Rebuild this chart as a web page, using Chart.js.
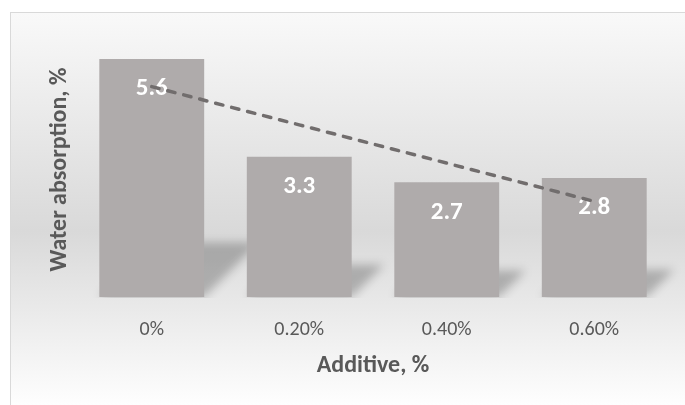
<!DOCTYPE html>
<html>
<head>
<meta charset="utf-8">
<title>Water absorption vs additive</title>
<script src="https://cdn.jsdelivr.net/npm/chart.js@4/dist/chart.umd.min.js"></script>
<style>
  html, body { margin: 0; padding: 0; background: #ffffff; }
  #wrap { position: relative; width: 685px; height: 405px; }
</style>
</head>
<body>
<div id="wrap"><canvas id="chart" width="685" height="405"></canvas></div>
<script>
// ---- data ----
const categories = ['0%', '0.20%', '0.40%', '0.60%'];
const absorption = [5.6, 3.3, 2.7, 2.8];
const yAxisTitle = 'Water absorption, %';
const xAxisTitle = 'Additive, %';
const yRange = [0, 6];

// ---- styling ----
const FONT = 'Carlito, Lato, "Open Sans", sans-serif';
const TEXT_GRAY = '#595959';
const BAR_GRAY = '#afabab';
const TREND_GRAY = '#716d6d';

// Ordinary least-squares linear trend over category index (1..n)
function linearTrend(values) {
  const n = values.length;
  const xs = values.map((_, i) => i + 1);
  const mx = xs.reduce((a, b) => a + b, 0) / n;
  const my = values.reduce((a, b) => a + b, 0) / n;
  let sxy = 0, sxx = 0;
  xs.forEach((x, i) => { sxy += (x - mx) * (values[i] - my); sxx += (x - mx) * (x - mx); });
  const slope = sxy / sxx;
  const intercept = my - slope * mx;
  return xs.map(x => intercept + slope * x);
}
const trend = linearTrend(absorption);

// Framed panel with a soft vertical gradient
const panelBackground = {
  id: 'panelBackground',
  beforeDraw(chart) {
    const ctx = chart.ctx;
    const w = chart.width, h = chart.height;
    ctx.save();
    ctx.fillStyle = '#ffffff';
    ctx.fillRect(0, 0, w, h);
    const g = ctx.createLinearGradient(0, 13, 0, h + 5);
    g.addColorStop(0, '#f9f9f9');
    g.addColorStop(0.55, '#d9d9d9');
    g.addColorStop(1, '#ffffff');
    ctx.fillStyle = g;
    ctx.fillRect(10, 13, w, h);
    ctx.strokeStyle = '#d9d9d9';
    ctx.lineWidth = 1;
    ctx.strokeRect(10.5, 12.5, w + 10, h + 10);
    ctx.restore();
  }
};

// Perspective floor shadow behind each bar
const barShadows = {
  id: 'barShadows',
  beforeDatasetsDraw(chart) {
    const meta = chart.getDatasetMeta(0);
    const ctx = chart.ctx;
    ctx.save();
    ctx.beginPath();
    ctx.rect(0, 0, chart.width, chart.chartArea.bottom + 1);
    ctx.clip();
    ctx.filter = 'blur(5px)';
    ctx.fillStyle = 'rgba(0,0,0,0.24)';
    meta.data.forEach(el => {
      const { x, y, base, width } = el.getProps(['x', 'y', 'base', 'width'], true);
      const hgt = (base - y) * 0.23;
      const l = x - width / 2, r = x + width / 2;
      ctx.beginPath();
      ctx.moveTo(l, base);
      ctx.lineTo(r, base);
      ctx.lineTo(r + hgt, base - hgt);
      ctx.lineTo(l + hgt, base - hgt);
      ctx.closePath();
      ctx.fill();
    });
    ctx.restore();
  }
};

// Value labels near the inside top of each bar
const barLabels = {
  id: 'barLabels',
  afterDatasetDraw(chart, args) {
    if (args.index !== 0) return;
    const ctx = chart.ctx;
    ctx.save();
    ctx.fillStyle = '#ffffff';
    ctx.font = 'bold 25px ' + FONT;
    ctx.textAlign = 'center';
    ctx.textBaseline = 'middle';
    args.meta.data.forEach((el, i) => {
      const { x, y } = el.getProps(['x', 'y'], true);
      ctx.fillText(absorption[i].toFixed(1), x, y + 30);
    });
    ctx.restore();
  }
};

new Chart(document.getElementById('chart'), {
  data: {
    labels: categories,
    datasets: [
      {
        type: 'bar',
        label: 'Water absorption',
        data: absorption,
        backgroundColor: BAR_GRAY,
        borderWidth: 0,
        barPercentage: 0.711,
        categoryPercentage: 1,
        order: 2
      },
      {
        type: 'line',
        label: 'Linear trend',
        data: trend,
        borderColor: TREND_GRAY,
        borderWidth: 3.5,
        borderDash: [7.5, 9],
        borderCapStyle: 'round',
        pointRadius: 0,
        fill: false,
        tension: 0,
        order: 1
      }
    ]
  },
  options: {
    responsive: false,
    animation: false,
    devicePixelRatio: 1,
    layout: { padding: { left: 46, right: 17, top: 42, bottom: 0 } },
    plugins: {
      legend: { display: false },
      tooltip: { enabled: false }
    },
    scales: {
      x: {
        grid: { display: false, drawTicks: false },
        border: { display: false },
        ticks: { color: TEXT_GRAY, font: { family: FONT, size: 20 }, padding: 21 },
        title: {
          display: true, text: xAxisTitle, color: TEXT_GRAY,
          font: { family: FONT, size: 24, weight: 'bold' },
          padding: { top: 0, bottom: 25 }
        },
        afterFit(scale) { scale.height = 108; }
      },
      y: {
        min: yRange[0],
        max: yRange[1],
        grid: { display: false, drawTicks: false },
        border: { display: false },
        ticks: { display: false },
        title: {
          display: true, text: yAxisTitle, color: TEXT_GRAY,
          font: { family: FONT, size: 24, weight: 'bold' },
          padding: { top: 0, bottom: 0 }
        },
        afterFit(scale) { scale.width = 32; }
      }
    }
  },
  plugins: [panelBackground, barShadows, barLabels]
});
</script>
</body>
</html>
